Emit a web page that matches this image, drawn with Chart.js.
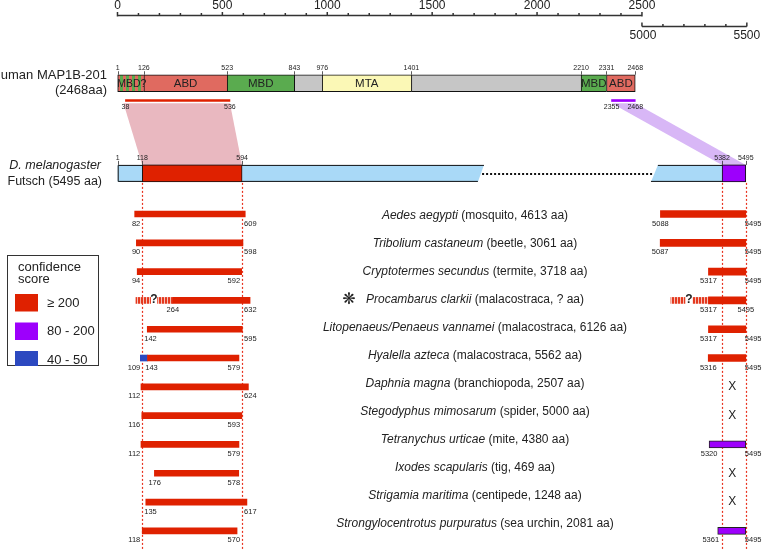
<!DOCTYPE html>
<html>
<head>
<meta charset="utf-8">
<script src="https://cdn.jsdelivr.net/npm/chart.js@4.4.1/dist/chart.umd.min.js"></script>
<style>
  html, body { margin: 0; padding: 0; background: #fff; }
  #wrap { width: 763px; height: 549px; position: relative; }
</style>
</head>
<body>
<div id="wrap"><canvas id="chart"></canvas></div>
<script>
// ---- data (amino acid positions) ----
const humanStarts = [1, 126, 523, 843, 976, 1401, 2210, 2331];
const humanEnds = [126, 523, 843, 976, 1401, 2210, 2331, 2468];
const humanDomains = ["MBD?", "ABD", "MBD", "", "MTA", "", "MBD", "ABD"];
const humanKinds = ["mbd?", "abd", "mbd", "none", "mta", "none", "mbd", "abd"];
const humanTicks = [1, 126, 523, 843, 976, 1401, 2210, 2331, 2468];
const humanMatchN = [38, 536];
const humanMatchC = [2355, 2468];

const futschLength = 5495;
const futschMatchN = [118, 594];
const futschMatchC = [5382, 5495];
const futschTicks = [1, 118, 594, 5382, 5495];

const speciesItalic = [
  "Aedes aegypti", "Tribolium castaneum", "Cryptotermes secundus", "Procambarus clarkii",
  "Litopenaeus/Penaeus vannamei", "Hyalella azteca", "Daphnia magna", "Stegodyphus mimosarum",
  "Tetranychus urticae", "Ixodes scapularis", "Strigamia maritima", "Strongylocentrotus purpuratus"
];
const speciesRest = [
  " (mosquito, 4613 aa)", " (beetle, 3061 aa)", " (termite, 3718 aa)", " (malacostraca, ? aa)",
  " (malacostraca, 6126 aa)", " (malacostraca, 5562 aa)", " (branchiopoda, 2507 aa)", " (spider, 5000 aa)",
  " (mite, 4380 aa)", " (tig, 469 aa)", " (centipede, 1248 aa)", " (sea urchin, 2081 aa)"
];
const leftStart = [82, 90, 94, 264, 142, 143, 112, 116, 112, 176, 135, 118];
const leftEnd = [609, 598, 592, 632, 595, 579, 624, 593, 579, 578, 617, 570];
const rightStart = [5088, 5087, 5317, 5317, 5317, 5316, null, null, 5320, null, null, 5361];
const rightEnd = [5495, 5495, 5495, 5495, 5495, 5495, null, null, 5495, null, null, 5495];
const rightScore = ["high", "high", "high", "high", "high", "high", null, null, "mid", null, null, "mid"];

// low-confidence piece of Hyalella, uncertain pieces of Procambarus
const lowStart = [109], lowEnd = [143], lowRow = [5];
const uncertainStart = [88, 191, 5138, 5243];
const uncertainEnd = [158, 264, 5205, 5317];
const uncertainRow = [3, 3, 3, 3];
const uncertainMark = [174, 5224];

const legendLabels = ["\u2265 200", "80 - 200", "40 - 50"];
const legendKinds = ["high", "mid", "low"];

// ---- look ----
const COL = {
  high: "#df2100", mid: "#9d00fc", low: "#2c49c0",
  abd: "#e06a60", mbd: "#5aab4f", none: "#c6c6c6", mta: "#fbf8b6",
  futsch: "#a9d9f7", pink: "#e9b8c0", lav: "#d8b7f6", dotted: "#e8321e", text: "#222"
};
const FONT = "'Liberation Sans', Arial, sans-serif";

// break in the axis: 2500 and 5000 meet
const disp = aa => (aa <= 2500 ? aa : aa - 2500);

// rows (y scale units): species rows are 0..11
const HUMAN_ROW = -4.54, FUTSCH_ROW = -1.41;

function stripes(c1, c2, w1, w2) {
  const cv = document.createElement("canvas");
  cv.width = w1 + w2; cv.height = 4;
  const g = cv.getContext("2d");
  g.fillStyle = c1; g.fillRect(0, 0, w1, 4);
  g.fillStyle = c2; g.fillRect(w1, 0, w2, 4);
  return g.createPattern(cv, "repeat");
}
const mbdStripes = stripes(COL.mbd, COL.abd, 3, 3);
const uncertainStripes = stripes("#e4391f", "#f6c2b8", 2, 1);

const humanColors = humanKinds.map(k => (k === "mbd?" ? mbdStripes : COL[k]));

const rightIdx = rightStart.map((s, i) => i).filter(i => rightStart[i] !== null);

const datasets = [
  {
    data: humanStarts.map((s, i) => ({ x: [disp(s), disp(humanEnds[i])], y: HUMAN_ROW })),
    backgroundColor: humanColors,
    borderColor: "#111",
    borderWidth: ctx => ({ top: 1, bottom: 1, left: 1, right: ctx.dataIndex === humanStarts.length - 1 ? 1 : 0 }),
    borderSkipped: false, barThickness: 17
  },
  {
    data: [
      { x: [disp(humanMatchN[0]), disp(humanMatchN[1])], y: HUMAN_ROW + 0.6 },
      { x: [disp(humanMatchC[0]), disp(humanMatchC[1])], y: HUMAN_ROW + 0.6 }
    ],
    backgroundColor: [COL.high, COL.mid], barThickness: 2
  },
  {
    data: [
      { x: [disp(futschMatchN[0]), disp(futschMatchN[1])], y: FUTSCH_ROW },
      { x: [disp(futschMatchC[0]), disp(futschMatchC[1])], y: FUTSCH_ROW }
    ],
    backgroundColor: [COL.high, COL.mid], borderColor: "#111", borderWidth: 1,
    borderSkipped: false, barThickness: 17
  },
  {
    data: leftStart.map((s, i) => ({ x: [disp(s), disp(leftEnd[i])], y: i })),
    backgroundColor: COL.high, barThickness: 6
  },
  {
    data: rightIdx.map(i => ({ x: [disp(rightStart[i]), disp(rightEnd[i])], y: i })),
    backgroundColor: rightIdx.map(i => COL[rightScore[i]]),
    borderColor: rightIdx.map(i => (rightScore[i] === "mid" ? "#222" : COL.high)),
    borderWidth: rightIdx.map(i => (rightScore[i] === "mid" ? 1 : 0)),
    borderSkipped: false, barThickness: 7
  },
  {
    data: lowStart.map((s, i) => ({ x: [disp(s), disp(lowEnd[i])], y: lowRow[i] })),
    backgroundColor: COL.low, barThickness: 6
  },
  {
    data: uncertainStart.map((s, i) => ({ x: [disp(s), disp(uncertainEnd[i])], y: uncertainRow[i] })),
    backgroundColor: uncertainStripes, barThickness: 6
  }
];

const diagram = {
  id: "diagram",
  beforeDatasetsDraw(chart) {
    const { ctx, scales: { x, y } } = chart;
    const px = aa => x.getPixelForValue(disp(aa));
    const yH = y.getPixelForValue(HUMAN_ROW);
    const yF = y.getPixelForValue(FUTSCH_ROW);
    const fTop = yF - 8.5, fBot = yF + 8.5;
    const mTop = yH + 20;
    ctx.save();

    // projections human -> Futsch
    ctx.fillStyle = COL.pink;
    ctx.beginPath();
    ctx.moveTo(px(humanMatchN[0]) - 2, mTop); ctx.lineTo(px(humanMatchN[1]), mTop);
    ctx.lineTo(px(futschMatchN[1]), fTop); ctx.lineTo(px(futschMatchN[0]), fTop);
    ctx.closePath(); ctx.fill();
    ctx.fillStyle = COL.lav;
    ctx.beginPath();
    ctx.moveTo(px(humanMatchC[0]), mTop); ctx.lineTo(px(humanMatchC[1]), mTop);
    ctx.lineTo(px(futschMatchC[1]), fTop); ctx.lineTo(px(futschMatchC[0]), fTop);
    ctx.closePath(); ctx.fill();

    // red dotted guides
    ctx.strokeStyle = COL.dotted; ctx.lineWidth = 1.2; ctx.setLineDash([2, 2]);
    [futschMatchN[0], futschMatchN[1], futschMatchC[0], futschMatchC[1]].forEach(v => {
      const xx = Math.round(px(v)) + 0.5;
      ctx.beginPath(); ctx.moveTo(xx, fBot + 1); ctx.lineTo(xx, 549); ctx.stroke();
    });
    ctx.setLineDash([]);

    // Futsch body with a break
    const bL = 1747, bLb = 1718, bR = 5076, bRb = 5043;
    ctx.fillStyle = COL.futsch;
    ctx.beginPath();
    ctx.moveTo(px(1), fTop); ctx.lineTo(px(bL), fTop); ctx.lineTo(px(bLb), fBot); ctx.lineTo(px(1), fBot);
    ctx.closePath(); ctx.fill();
    ctx.beginPath();
    ctx.moveTo(px(bR), fTop); ctx.lineTo(px(futschLength), fTop); ctx.lineTo(px(futschLength), fBot); ctx.lineTo(px(bRb), fBot);
    ctx.closePath(); ctx.fill();
    ctx.strokeStyle = "#111"; ctx.lineWidth = 1;
    ctx.beginPath();
    ctx.moveTo(px(bL), fTop + 0.5); ctx.lineTo(px(1) + 0.5, fTop + 0.5); ctx.lineTo(px(1) + 0.5, fBot - 0.5); ctx.lineTo(px(bLb), fBot - 0.5);
    ctx.moveTo(px(bR), fTop + 0.5); ctx.lineTo(px(futschLength), fTop + 0.5);
    ctx.moveTo(px(bRb), fBot - 0.5); ctx.lineTo(px(futschLength), fBot - 0.5);
    ctx.stroke();
    ctx.lineWidth = 2; ctx.setLineDash([2, 2]);
    ctx.beginPath(); ctx.moveTo(px(1738), yF + 0.5); ctx.lineTo(px(5050), yF + 0.5); ctx.stroke();
    ctx.setLineDash([]);

    // scale bars on top
    ctx.strokeStyle = "#333"; ctx.lineWidth = 1.5; ctx.fillStyle = COL.text;
    ctx.font = "12px " + FONT; ctx.textAlign = "center"; ctx.textBaseline = "middle";
    const a1 = 15.5;
    ctx.beginPath(); ctx.moveTo(px(0), a1); ctx.lineTo(px(2500), a1);
    for (let v = 0; v <= 2500; v += 100) {
      const xx = px(v);
      ctx.moveTo(xx, a1 - (v % 500 === 0 ? 3.5 : 2.5)); ctx.lineTo(xx, a1 + (v === 0 || v === 2500 ? 1 : 0));
    }
    ctx.stroke();
    for (let v = 0; v <= 2500; v += 500) ctx.fillText(String(v), px(v), 6);
    const a2 = 26.5;
    ctx.beginPath(); ctx.moveTo(px(5000), a2); ctx.lineTo(px(5500), a2);
    for (let v = 5000; v <= 5500; v += 100) {
      const xx = px(v);
      ctx.moveTo(xx, a2 - (v === 5000 || v === 5500 ? 4 : 2.5)); ctx.lineTo(xx, a2);
    }
    ctx.stroke();
    ctx.fillText("5000", px(5000) + 1, 36);
    ctx.fillText("5500", px(5500), 36);
    ctx.restore();
  },

  afterDatasetsDraw(chart) {
    const { ctx, scales: { x, y } } = chart;
    const px = aa => x.getPixelForValue(disp(aa));
    const yH = y.getPixelForValue(HUMAN_ROW);
    const yF = y.getPixelForValue(FUTSCH_ROW);
    ctx.save();
    ctx.fillStyle = COL.text; ctx.textBaseline = "middle";

    // domain names
    humanDomains.forEach((d, i) => {
      if (!d) return;
      ctx.font = (i === 0 ? "10.5px " : "11.5px ") + FONT; ctx.textAlign = "center";
      ctx.fillText(d, (px(humanStarts[i]) + px(humanEnds[i])) / 2 + (i === 0 ? 1 : 0), yH + 1);
    });

    // position labels with little ticks
    ctx.font = "7px " + FONT; ctx.textAlign = "center";
    ctx.strokeStyle = "#333"; ctx.lineWidth = 0.8;
    humanTicks.forEach(v => {
      ctx.fillText(String(v), px(v), yH - 15);
      ctx.beginPath(); ctx.moveTo(Math.round(px(v)) + 0.5, yH - 12); ctx.lineTo(Math.round(px(v)) + 0.5, yH - 8.5); ctx.stroke();
    });
    futschTicks.forEach(v => {
      ctx.fillText(String(v), px(v), yF - 15.5);
      ctx.beginPath(); ctx.moveTo(Math.round(px(v)) + 0.5, yF - 12.5); ctx.lineTo(Math.round(px(v)) + 0.5, yF - 8.5); ctx.stroke();
    });
    [...humanMatchN, ...humanMatchC].forEach(v => ctx.fillText(String(v), px(v), yH + 24));

    // row titles on the left
    ctx.textAlign = "right"; ctx.font = "13px " + FONT;
    ctx.fillText("human MAP1B-201", 107, yH - 8);
    ctx.fillText("(2468aa)", 107, yH + 7);
    ctx.font = "italic 12.5px " + FONT;
    ctx.fillText("D. melanogaster", 101, yF - 7.5);
    ctx.font = "12.5px " + FONT;
    ctx.fillText("Futsch (5495 aa)", 102, yF + 8);

    // legend
    ctx.strokeStyle = "#333"; ctx.lineWidth = 1;
    ctx.strokeRect(7.5, 255.5, 91, 110);
    ctx.textAlign = "left"; ctx.font = "13px " + FONT;
    ctx.fillText("confidence", 18, 267);
    ctx.fillText("score", 18, 279.5);
    legendLabels.forEach((l, i) => {
      const top = 294 + i * 28.5;
      ctx.fillStyle = COL[legendKinds[i]];
      ctx.fillRect(15, top, 23, i === 2 ? 15 : 17.5);
      ctx.fillStyle = COL.text;
      ctx.fillText(l, 47, top + 9);
    });

    // species names
    const cx = 475;
    speciesItalic.forEach((it, i) => {
      const ty = y.getPixelForValue(i) + 2 - 0.8 * i;
      ctx.font = "italic 12px " + FONT;
      const w1 = ctx.measureText(it).width;
      ctx.font = "12px " + FONT;
      const w2 = ctx.measureText(speciesRest[i]).width;
      const x0 = cx - (w1 + w2) / 2;
      ctx.textAlign = "left";
      ctx.font = "italic 12px " + FONT; ctx.fillText(it, x0, ty);
      ctx.font = "12px " + FONT; ctx.fillText(speciesRest[i], x0 + w1, ty);
      if (speciesRest[i].indexOf("?") >= 0) {
        ctx.font = "16px 'DejaVu Sans'"; ctx.textAlign = "center";
        ctx.fillText("\u274B", x0 - 17, ty);
      }
    });

    // absent C-terminal match
    ctx.font = "12px " + FONT; ctx.textAlign = "center";
    rightStart.forEach((s, i) => { if (s === null) ctx.fillText("X", px(5430), y.getPixelForValue(i)); });

    // uncertain marks
    ctx.font = "bold 12px " + FONT;
    uncertainMark.forEach(v => ctx.fillText("?", px(v), y.getPixelForValue(3) - 1));

    // bar end labels
    ctx.font = "7.5px " + FONT;
    const lN0 = px(futschMatchN[0]), lN1 = px(futschMatchN[1]);
    const lC0 = px(futschMatchC[0]), lC1 = px(futschMatchC[1]);
    leftStart.forEach((s, i) => {
      const ly = y.getPixelForValue(i) + 9.5;
      const e = leftEnd[i];
      const lo = i === lowRow[0] ? lowStart[0] : null;
      if (uncertainRow.includes(i)) {
        ctx.textAlign = "center"; ctx.fillText(String(s), px(s), ly);
      } else if (lo !== null) {
        ctx.textAlign = "right"; ctx.fillText(String(lo), lN0 - 2, ly);
        ctx.textAlign = "left"; ctx.fillText(String(s), lN0 + 3, ly);
      } else if (s <= futschMatchN[0]) {
        ctx.textAlign = "right"; ctx.fillText(String(s), lN0 - 2, ly);
      } else {
        ctx.textAlign = "left"; ctx.fillText(String(s), Math.max(lN0 + 2, px(s) - 6), ly);
      }
      if (e > futschMatchN[1]) { ctx.textAlign = "left"; ctx.fillText(String(e), lN1 + 2, ly); }
      else { ctx.textAlign = "right"; ctx.fillText(String(e), lN1 - 2, ly); }
    });
    rightIdx.forEach(i => {
      const ly = y.getPixelForValue(i) + 9.5;
      const s = rightStart[i], e = rightEnd[i];
      if (s > futschMatchC[0] - 30) { ctx.textAlign = "right"; ctx.fillText(String(s), lC0 - 3, ly); }
      else { ctx.textAlign = "center"; ctx.fillText(String(s), px(s), ly); }
      if (uncertainRow.includes(i)) { ctx.textAlign = "center"; ctx.fillText(String(e), px(e), ly); }
      else { ctx.textAlign = "left"; ctx.fillText(String(e), lC1 - 1, ly); }
    });
    ctx.restore();
  }
};

new Chart(document.getElementById("chart"), {
  type: "bar",
  data: { datasets },
  options: {
    indexAxis: "y",
    responsive: true,
    maintainAspectRatio: false,
    animation: false,
    layout: { padding: 0 },
    datasets: { bar: { grouped: false } },
    scales: {
      x: { type: "linear", min: -560, max: 3077, display: false },
      y: { type: "linear", min: -7.43, max: 11.63, reverse: true, offset: false, display: false }
    },
    plugins: { legend: { display: false }, tooltip: { enabled: false } }
  },
  plugins: [diagram]
});
</script>
</body>
</html>
